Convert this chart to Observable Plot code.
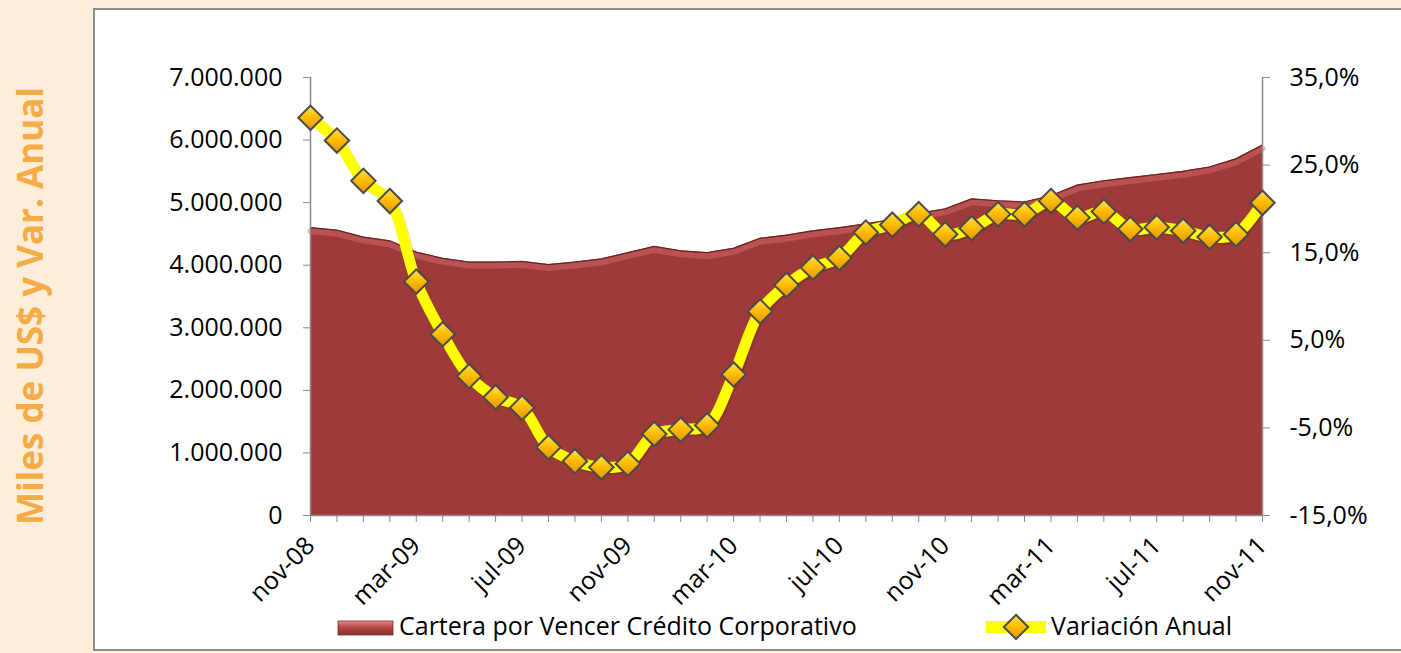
<!DOCTYPE html>
<html>
<head>
<meta charset="utf-8">
<script src="https://cdn.jsdelivr.net/npm/d3@7"></script>
<script src="https://cdn.jsdelivr.net/npm/@observablehq/plot@0.6"></script>
<style>
  html, body { margin: 0; padding: 0; overflow: hidden; background: #FDEEDA; }
  #wrap { position: relative; width: 1401px; height: 653px; overflow: hidden; background: #FDEEDA; font-family: "Open Sans", sans-serif; }
  #bg { position: absolute; left: 0; top: 0; }
  #chart { position: absolute; left: 0; top: 0; }
  #legend { position: absolute; left: 0; top: 600px; }
</style>
</head>
<body>
<div id="wrap">
<svg id="bg" width="1401" height="653">
  <rect x="94" y="9" width="1400" height="641" fill="#ffffff" stroke="#8d8d8d" stroke-width="2"></rect>
  <text transform="translate(43,306) rotate(-90)" text-anchor="middle" font-family="Open Sans" font-weight="700" font-size="35" fill="#F5AB46">Miles de US$ y Var. Anual</text>
</svg>
<div id="chart"></div>
<svg id="legend" width="1401" height="53"></svg>
</div>
<script>
// ---- data ----
const months = ["nov-08","dic-08","ene-09","feb-09","mar-09","abr-09","may-09","jun-09","jul-09","ago-09","sep-09","oct-09",
                "nov-09","dic-09","ene-10","feb-10","mar-10","abr-10","may-10","jun-10","jul-10","ago-10","sep-10","oct-10",
                "nov-10","dic-10","ene-11","feb-11","mar-11","abr-11","may-11","jun-11","jul-11","ago-11","sep-11","oct-11","nov-11"];
const cartera = [4600000,4560000,4450000,4390000,4210000,4110000,4050000,4050000,4060000,4010000,4050000,4100000,
                 4200000,4300000,4230000,4200000,4270000,4430000,4480000,4550000,4600000,4660000,4730000,4830000,
                 4900000,5060000,5030000,5010000,5110000,5280000,5350000,5400000,5450000,5500000,5570000,5700000,5920000];
const variacion = [30.4,27.8,23.2,20.9,11.7,5.7,0.9,-1.5,-2.7,-7.2,-8.8,-9.5,
                   -9.1,-5.7,-5.2,-4.7,1.1,8.3,11.3,13.3,14.4,17.3,18.2,19.4,
                   17.1,17.8,19.4,19.4,20.9,19.0,19.7,17.7,17.9,17.5,16.8,17.1,20.7];
const xLabels = ["nov-08","mar-09","jul-09","nov-09","mar-10","jul-10","nov-10","mar-11","jul-11","nov-11"];
const leftTicks = [0,1000000,2000000,3000000,4000000,5000000,6000000,7000000];
const pctTicks = [-15,-5,5,15,25,35];
const seriesNames = ["Cartera por Vencer Crédito Corporativo", "Variación Anual"];

// ---- scales mapping (right axis mapped onto left domain) ----
const yMax = 7000000, pctMin = -15, pctMax = 35;
const toLeft = p => (p - pctMin) / (pctMax - pctMin) * yMax;
const fromLeft = v => v / yMax * (pctMax - pctMin) + pctMin;

const data = months.map((m, i) => ({m, c: cartera[i], v: variacion[i], vy: toLeft(variacion[i])}));
const labelSet = new Set(xLabels);
const fmtMiles = d3.formatLocale({decimal: ",", thousands: ".", grouping: [3], currency: ["$", ""]}).format(",.0f");
const fmtPct = v => (Math.round(fromLeft(v) * 10) / 10).toFixed(1).replace(".", ",") + "%";

const chart = Plot.plot({
  width: 1401,
  height: 600,
  marginLeft: 310,
  marginRight: 139,
  marginTop: 77,
  marginBottom: 85,
  style: {background: "transparent", fontFamily: "Open Sans", fontSize: "25px", color: "#000", overflow: "visible"},
  x: {type: "point", domain: months, padding: 0, round: false},
  y: {domain: [0, yMax]},
  marks: [
    Plot.areaY(data, {x: "m", y: "c", fill: "#9E3A39"}),
    Plot.lineY(data, {x: "m", y: "c", stroke: "#D9706D", strokeWidth: 6, strokeOpacity: 0.45, dy: 3.5}),
    Plot.lineY(data, {x: "m", y: "c", stroke: "#6B2321", strokeWidth: 1.2}),
    Plot.ruleX([months[0], months[months.length - 1]], {stroke: "#8a8a8a", strokeWidth: 1.5}),
    Plot.ruleY([0], {stroke: "#8a8a8a", strokeWidth: 1.5}),
    Plot.axisY({anchor: "left", ticks: leftTicks, tickFormat: fmtMiles, tickSize: 7, tickPadding: 21, stroke: "#8a8a8a", label: null}),
    Plot.axisY({anchor: "right", ticks: pctTicks.map(toLeft), tickFormat: fmtPct, tickSize: 7, tickPadding: 20, stroke: "#8a8a8a", label: null}),
    Plot.axisX({ticks: months, tickFormat: d => labelSet.has(d) ? d : "", tickRotate: -45, tickSize: 7, tickPadding: 19, stroke: "#8a8a8a", label: null}),
    Plot.lineY(data, {x: "m", y: "vy", stroke: "#000", strokeOpacity: 0.12, strokeWidth: 11, curve: "catmull-rom", dx: 1.5, dy: 2}),
    Plot.lineY(data, {x: "m", y: "vy", stroke: "#FFFF00", strokeWidth: 11, curve: "catmull-rom"}),
    Plot.dot(data, {x: "m", y: "vy", symbol: "diamond2", r: 11, fill: "#FFC000", stroke: "#4A4A4A", strokeWidth: 2})
  ]
});
document.getElementById("chart").appendChild(chart);

// gold gradient for the diamond markers
const svg = d3.select(chart);
const defs = svg.insert("defs", ":first-child");
const g = defs.append("linearGradient").attr("id", "gold").attr("x1", 0).attr("y1", 0).attr("x2", 0).attr("y2", 1);
g.append("stop").attr("offset", "0%").attr("stop-color", "#FFE15A");
g.append("stop").attr("offset", "45%").attr("stop-color", "#FFBF00");
g.append("stop").attr("offset", "100%").attr("stop-color", "#E59400");
svg.selectAll('g[aria-label="dot"] path').attr("fill", "url(#gold)");

// ---- legend ----
const lg = d3.select("#legend");
const ldefs = lg.append("defs");
const rg = ldefs.append("linearGradient").attr("id", "redsw").attr("x1", 0).attr("y1", 0).attr("x2", 0).attr("y2", 1);
rg.append("stop").attr("offset", "0%").attr("stop-color", "#E99090");
rg.append("stop").attr("offset", "35%").attr("stop-color", "#C05452");
rg.append("stop").attr("offset", "70%").attr("stop-color", "#9E3A39");
rg.append("stop").attr("offset", "100%").attr("stop-color", "#86302E");
const lg2 = ldefs.append("linearGradient").attr("id", "gold2").attr("x1", 0).attr("y1", 0).attr("x2", 0).attr("y2", 1);
lg2.append("stop").attr("offset", "0%").attr("stop-color", "#FFE15A");
lg2.append("stop").attr("offset", "45%").attr("stop-color", "#FFBF00");
lg2.append("stop").attr("offset", "100%").attr("stop-color", "#E59400");

lg.append("rect").attr("x", 338).attr("y", 21).attr("width", 55).attr("height", 14)
  .attr("fill", "url(#redsw)").attr("stroke", "#7a2a2a").attr("stroke-width", 0.8);
lg.append("text").attr("x", 399).attr("y", 35).attr("font-family", "Open Sans").attr("font-size", 25).attr("fill", "#000").text(seriesNames[0]);
lg.append("line").attr("x1", 986).attr("x2", 1046).attr("y1", 27).attr("y2", 27).attr("stroke", "#FFFF00").attr("stroke-width", 12);
lg.append("path").attr("d", d3.symbol(d3.symbolDiamond2, 11 * 11 * Math.PI)()).attr("transform", "translate(1016,27)")
  .attr("fill", "url(#gold2)").attr("stroke", "#4A4A4A").attr("stroke-width", 2);
lg.append("text").attr("x", 1051).attr("y", 35).attr("font-family", "Open Sans").attr("font-size", 25).attr("fill", "#000").text(seriesNames[1]);
</script>
</body>
</html>
